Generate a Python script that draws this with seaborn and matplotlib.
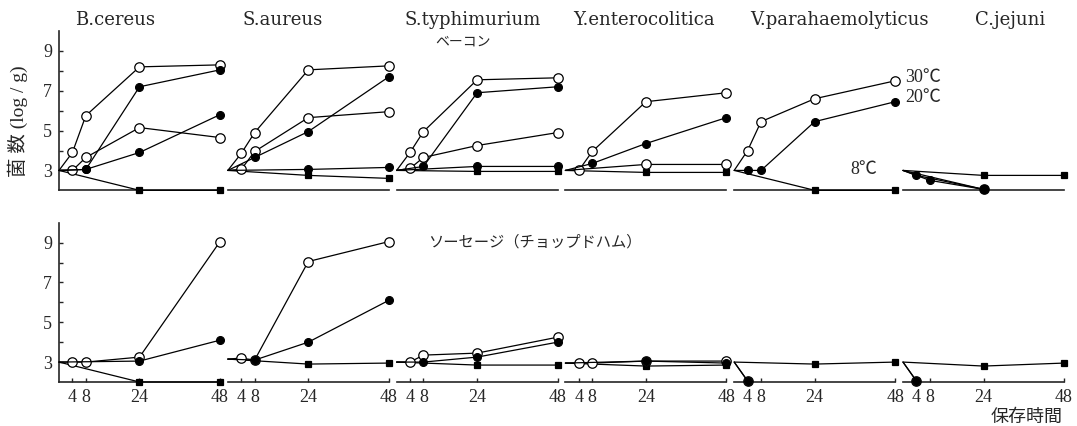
import numpy as np
import pandas as pd
import matplotlib
matplotlib.use("Agg")
import matplotlib.pyplot as plt
import seaborn as sns

nan = np.nan

# ---------------- data ----------------
hours = [0, 4, 8, 24, 48]
organisms = ["B.cereus", "S.aureus", "S.typhimurium", "Y.enterocolitica",
             "V.parahaemolyticus", "C.jejuni"]
x_ticks = [4, 8, 24, 48]
y_ticks = [3, 5, 7, 9]
y_minor = [4, 6, 8]

# Bacon (ベーコン), one list per organism, values at hours 0,4,8,24,48 (log/g)
bacon_30_a = [[3.0, 3.9, 5.75, 8.2, 8.3],
              [3.0, 3.85, 4.9, 8.05, 8.25],
              [3.0, 3.9, 4.95, 7.55, 7.65],
              [3.0, 3.0, 3.95, 6.45, 6.9],
              [3.0, 4.0, 5.45, 6.6, 7.5],
              [3.0, nan, nan, 2.05, nan]]
bacon_30_b = [[3.0, 3.0, 3.65, 5.15, 4.65],
              [3.0, 3.05, 3.95, 5.65, 5.95],
              [3.0, 3.1, 3.65, 4.25, 4.9],
              [3.0, nan, nan, 3.3, 3.3],
              [nan, nan, nan, nan, nan],
              [nan, nan, nan, nan, nan]]
bacon_20_a = [[3.0, nan, 3.05, 7.2, 8.05],
              [3.0, nan, 3.65, 4.95, 7.7],
              [3.0, nan, 3.2, 6.9, 7.2],
              [3.0, nan, 3.35, 4.35, 5.65],
              [3.0, 3.0, 3.0, 5.45, 6.45],
              [3.0, 2.75, nan, 2.05, nan]]
bacon_20_b = [[3.0, nan, 3.05, 3.9, 5.8],
              [3.0, nan, nan, 3.05, 3.15],
              [3.0, nan, nan, 3.2, 3.2],
              [nan, nan, nan, nan, nan],
              [nan, nan, nan, nan, nan],
              [3.0, nan, 2.5, 2.05, nan]]
bacon_8 = [[3.0, nan, nan, 2.0, 2.0],
           [3.0, nan, nan, 2.75, 2.6],
           [3.0, nan, nan, 2.95, 2.95],
           [3.0, nan, nan, 2.9, 2.9],
           [3.0, nan, nan, 2.0, 2.0],
           [3.0, nan, nan, 2.75, 2.75]]

# Sausage (ソーセージ(チョップドハム))
sausage_30 = [[3.0, 3.0, 3.0, 3.25, 9.05],
              [3.15, 3.2, 3.1, 8.05, 9.05],
              [3.0, 3.0, 3.35, 3.45, 4.25],
              [2.95, 2.95, 2.95, 3.05, 3.05],
              [3.0, 2.05, nan, nan, nan],
              [3.0, 2.05, nan, nan, nan]]
sausage_20 = [[3.0, nan, nan, 3.05, 4.1],
              [3.15, nan, 3.1, 4.0, 6.1],
              [3.0, nan, 3.0, 3.25, 4.0],
              [2.95, nan, nan, 3.05, 2.95],
              [3.0, 2.05, nan, nan, nan],
              [3.0, 2.05, nan, nan, nan]]
sausage_8 = [[3.0, nan, nan, 2.0, 2.0],
             [3.15, nan, nan, 2.9, 2.95],
             [3.0, nan, nan, 2.85, 2.85],
             [2.95, nan, nan, 2.8, 2.85],
             [3.0, nan, nan, 2.9, 3.0],
             [3.0, nan, nan, 2.8, 2.95]]

products = ["bacon", "sausage"]
series_by_product = {
    "bacon": [("8", "sq", bacon_8), ("30a", "open", bacon_30_a), ("30b", "open", bacon_30_b),
              ("20a", "fill", bacon_20_a), ("20b", "fill", bacon_20_b)],
    "sausage": [("8", "sq", sausage_8), ("30", "open", sausage_30), ("20", "fill", sausage_20)],
}

rows = []
for prod in products:
    for sname, kind, table in series_by_product[prod]:
        for org, vals in zip(organisms, table):
            for h, v in zip(hours, vals):
                if not np.isnan(v):
                    rows.append(dict(product=prod, organism=org, series=sname,
                                     kind=kind, hour=h, value=v))
df = pd.DataFrame(rows)

styles = {
    "open": dict(marker="o", markersize=6.8, markerfacecolor="white"),
    "fill": dict(marker="o", markersize=5.6, markerfacecolor="black"),
    "sq": dict(marker="s", markersize=5.0, markerfacecolor="black"),
}

# ---------------- figure ----------------
sns.set_style("ticks")
plt.rcParams["font.family"] = ["Liberation Serif", "Noto Sans CJK JP"]
plt.rcParams["axes.linewidth"] = 1.2

W, H = 1077, 426
fig, axes = plt.subplots(2, 6, figsize=(W / 100, H / 100), dpi=100,
                         sharex=True, sharey=True)
fig.subplots_adjust(left=59 / W, right=(903 + 161) / W, top=0.9272,
                    bottom=0.1033, wspace=0.0485, hspace=0.203)

for r, prod in enumerate(products):
    for c, org in enumerate(organisms):
        ax = axes[r, c]
        for sname, kind, _ in series_by_product[prod]:
            sub = df[(df["product"] == prod) & (df["organism"] == org)
                     & (df["series"] == sname)].sort_values("hour")
            if len(sub) < 2:
                continue
            marks = [i for i, h in enumerate(sub["hour"]) if h != 0]
            sns.lineplot(data=sub, x="hour", y="value", ax=ax, color="black",
                         linewidth=0.9, markeredgecolor="black",
                         markeredgewidth=0.9, markevery=marks, clip_on=False,
                         estimator=None, errorbar=None, legend=False,
                         zorder=3, **styles[kind])
        ax.set_xlim(0, 48)
        ax.set_ylim(2, 10)
        ax.set_xlabel("")
        ax.set_ylabel("")
        sns.despine(ax=ax, left=(c != 0))
        ax.set_xticks(x_ticks)
        if r == 0:
            ax.tick_params(axis="x", length=0, labelbottom=False)
        else:
            ax.tick_params(axis="x", direction="in", length=3, width=1,
                           labelsize=13, pad=5, labelbottom=True)
        if c == 0:
            ax.set_yticks(y_ticks)
            ax.set_yticks(y_minor, minor=True)
            ax.tick_params(axis="y", which="both", direction="in", length=3,
                           width=1, labelsize=13, pad=5, labelleft=True)
        else:
            ax.tick_params(axis="y", which="both", left=False, labelleft=False)

# panel titles
title_x = [75, 242, 405, 573, 750, 975]
for org, tx in zip(organisms, title_x):
    fig.text(tx / W, 1 - 20 / H, org, ha="left", va="center",
             fontsize=13, family="DejaVu Serif")

jp = ["Noto Sans CJK JP", "DejaVu Sans"]
fig.text(18 / W, 1 - 121 / H, "菌 数 (log / g)", rotation=90, ha="center",
         va="center", fontsize=14,
         family=["Liberation Serif", "Noto Sans CJK JP"])
fig.text(463 / W, 1 - 42 / H, "ベーコン", ha="center", va="center",
         fontsize=10, family=jp)
fig.text(428 / W, 1 - 242 / H, "ソーセージ（チョップドハム）", ha="left",
         va="center", fontsize=11, family=jp)
lab_font = ["Liberation Serif", "Noto Sans CJK JP"]
fig.text(905 / W, 1 - 77 / H, "30℃", ha="left", va="center", fontsize=13,
         family=lab_font)
fig.text(905 / W, 1 - 97 / H, "20℃", ha="left", va="center", fontsize=13,
         family=lab_font)
fig.text(850 / W, 1 - 170 / H, "8℃", ha="left", va="center", fontsize=13,
         family=lab_font)
fig.text(1063 / W, 1 - 417 / H, "保存時間", ha="right", va="center",
         fontsize=13, family=jp)

fig.savefig("out.png", dpi=100)
